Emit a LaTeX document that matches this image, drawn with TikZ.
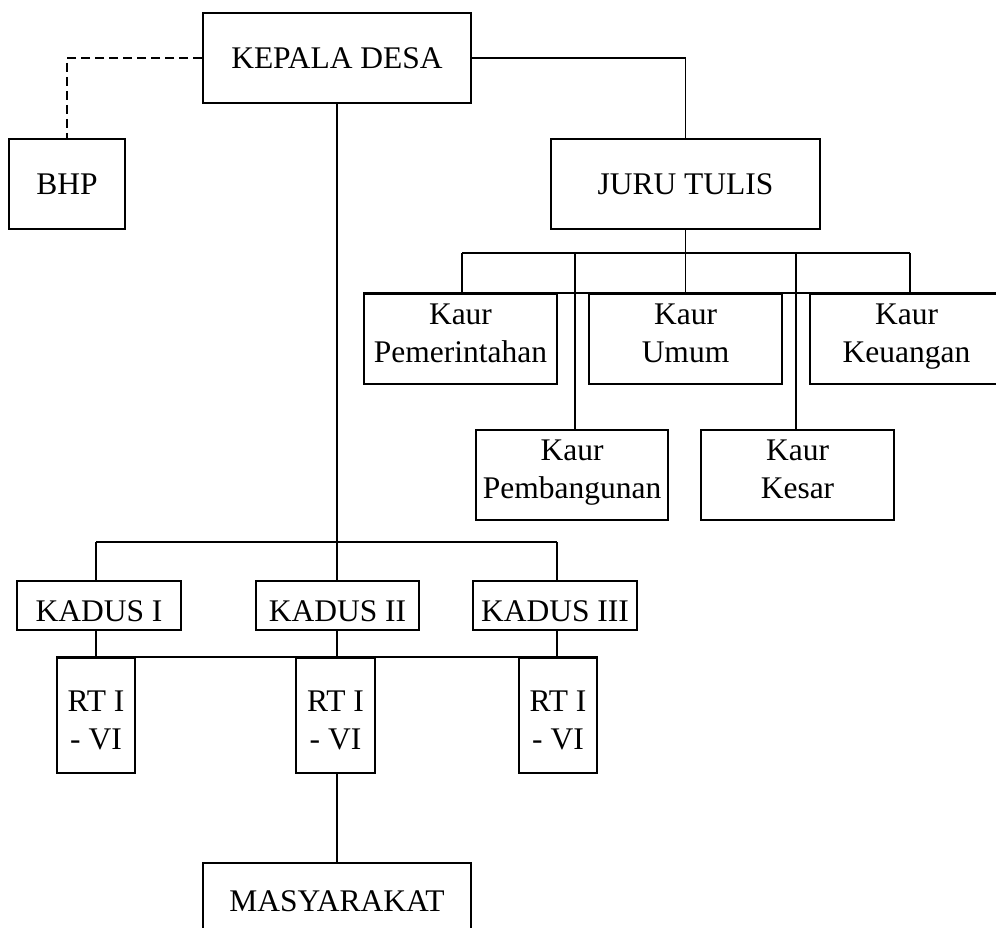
\documentclass[tikz,border=0pt]{standalone}
\usepackage{fontspec}
\setmainfont{Liberation Serif}
\newcommand{\lowstrut}{\rule[-12pt]{0pt}{12pt}}
\newcommand{\highstrut}{\rule{0pt}{31pt}}
\begin{document}
\begin{tikzpicture}[x=1pt,y=-1pt,line width=1.8pt,
  box/.style={draw, rectangle, inner sep=0pt, align=center, font=\fontsize{31.5}{38}\selectfont},
  topbox/.style={box, minimum height=90pt, text depth=0pt},
  kaur/.style={box, minimum width=193pt, minimum height=90pt},
  kadus/.style={box, minimum width=164pt, minimum height=49pt, text height=31pt, text depth=0pt},
  rt/.style={box, minimum width=78pt, minimum height=115pt},
  dashline/.style={dash pattern=on 9pt off 5pt, line width=1.6pt}]
\useasboundingbox (0,0) rectangle (996,927);
\clip (0,0) rectangle (996,927);
% top level
\node[topbox, minimum width=268pt] (kd) at (337,58) {KEPALA DESA};
\node[topbox, minimum width=116pt] (bhp) at (67,184) {BHP};
\node[topbox, minimum width=269pt] (jt) at (685.5,184) {JURU TULIS};
% kaur
\node[kaur] (kp) at (460.5,339) {Kaur\\Pemerintahan\lowstrut};
\node[kaur] (ku) at (685.5,339) {Kaur\\Umum\lowstrut};
\node[kaur] (kk) at (906.5,339) {Kaur\\Keuangan\lowstrut};
\node[kaur, minimum width=192pt] (kb) at (572,475) {Kaur\\Pembangunan\lowstrut};
\node[kaur] (ks) at (797.5,475) {Kaur\\Kesar\lowstrut};
% kadus
\node[kadus] (k1) at (99,605.5) {KADUS I};
\node[kadus, minimum width=163pt] (k2) at (337.5,605.5) {KADUS II};
\node[kadus] (k3) at (555,605.5) {KADUS III};
% rt
\node[rt] (r1) at (96,715.5) {\highstrut RT I\\- VI};
\node[rt, minimum width=79pt] (r2) at (335.5,715.5) {\highstrut RT I\\- VI};
\node[rt] (r3) at (558,715.5) {\highstrut RT I\\- VI};
% masyarakat
\node[box, minimum width=268pt, minimum height=76pt, text depth=0pt] (mas) at (337,901) {MASYARAKAT};
% connectors top
\draw[dashline] (kd.west) -| (bhp.north);
\draw (kd.east) -| (jt.north);
\coordinate (bl) at (462,253);
\coordinate (br) at (910,253);
\coordinate (d2) at (575,253);
\coordinate (d4) at (796,253);
\draw (jt.south) -- (jt.south |- bl);
\draw (bl) -- (br);
\draw (bl) -- (bl |- kp.north);
\draw (d2) -- (d2 |- kb.north);
\draw (jt.south |- bl) -- (jt.south |- ku.north);
\draw (d4) -- (d4 |- ks.north);
\draw (br) -- (br |- kk.north);
\draw (kp.north west) -- (kk.north east);
% connectors kadus
\coordinate (kb1) at (96,542);
\coordinate (kb3) at (557,542);
\draw (kd.south) -- (kd.south |- kb1);
\draw (kb1) -- (kb3);
\draw (kb1) -- (kb1 |- k1.north);
\draw (kd.south |- kb1) -- (kd.south |- k2.north);
\draw (kb3) -- (kb3 |- k3.north);
\draw (kb1 |- k1.south) -- (kb1 |- r1.north);
\draw (kd.south |- k2.south) -- (kd.south |- r2.north);
\draw (kb3 |- k3.south) -- (kb3 |- r3.north);
\draw (r1.north west) -- (r3.north east);
\draw (kd.south |- r2.south) -- (mas.north);
\end{tikzpicture}
\end{document}
